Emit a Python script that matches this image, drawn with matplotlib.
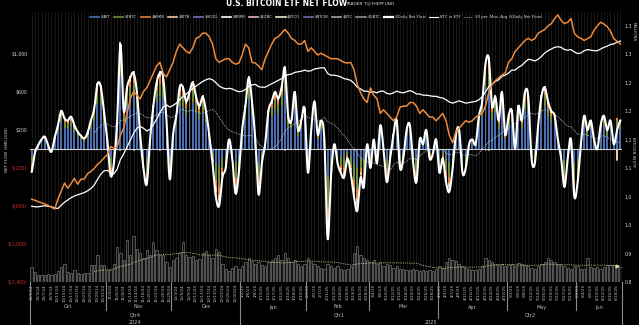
import numpy as np
import pandas as pd
import matplotlib
matplotlib.use("Agg")
import matplotlib.pyplot as plt
from matplotlib.lines import Line2D
from matplotlib.transforms import blended_transform_factory

# trading days Oct 2024 - Jun 2025
holidays = ["2024-11-28", "2024-12-25", "2025-01-01", "2025-01-09", "2025-01-20",
            "2025-02-17", "2025-04-18", "2025-05-26", "2025-06-19"]
dates = pd.bdate_range("2024-10-01", "2025-06-20", freq="C", holidays=holidays)

# daily flows per fund ($M), one row per month
ibit = [-70, -10, 30, 70, 90, 30, -10, 85, 175, 280, 225, 210, 240, 175, 125, 100, 75, 120, 210, 295, 475, 460, 275,
        70, -85, -45, 210, 770, 280, 455, 525, 560, 420, 105, -60, -110, 70, 315, 490, 560, 525, 210, -95,
        105, 245, 455, 455, 350, 420, 490, 385, 315, 385, 280, 105, -45, -150, -180, -90, -60, 70, -30, -140, -75,
        140, 315, 525, 350, 70, -145, -45, 35, 280, 350, 420, 370, 455, 595, 245, 210, 420, 140, 210, 295,
        -75, 140, 350, 105, 210, 70, -285, -90, 35, -45, -75, -90, -30, -75, -150, -195, -90, -120, 35,
        -60, 70, -45, 175, 10, -105, -30, 105, 210, -60, -30, 140, 175, -45, -105, 70, 35, 140, -30, -15, 70,
        -75, -30, -105, -135, -60, 105, 140, -75, -60, 35, 70, 35, 245, 350, 630, 665, 315, 385, 210, 420, 105,
        245, 280, 10, 315, 210, 420, 385, -30, -45, 175, 385, 455, 350, 280, 245, 70, -30, -120, -30, 70, -150,
        -105, 35, 245, 140, 210, 70, 10, 175, 245, 140, 210, 35, 245, 210]
fbtc = [-85, -15, 5, 15, 20, 5, -10, 20, 40, 70, 55, 50, 55, 40, 30, 25, 20, 30, 50, 70, 115, 110, 65,
        15, -100, -50, 50, 185, 70, 110, 125, 135, 100, 25, -70, -130, 15, 75, 120, 135, 125, 50, -110,
        25, 60, 110, 110, 85, 100, 120, 95, 75, 95, 70, 25, -50, -175, -210, -105, -70, 15, -35, -165, -90,
        35, 75, 125, 85, 15, -170, -50, 10, 70, 85, 100, 90, 110, 145, 60, 50, 100, 35, 50, 70,
        -90, 35, 85, 25, 50, 15, -335, -105, 10, -50, -90, -105, -35, -90, -175, -230, -105, -140, 10,
        -70, 15, -50, 40, -5, -125, -35, 25, 50, -70, -35, 35, 40, -50, -125, 15, 10, 35, -35, -20, 15,
        -90, -35, -125, -160, -70, 25, 35, -90, -70, 10, 15, 10, 60, 85, 155, 160, 75, 95, 50, 100, 25,
        60, 70, -5, 75, 50, 100, 95, -35, -50, 40, 95, 110, 85, 70, 60, 15, -35, -140, -35, 15, -175,
        -125, 10, 60, 35, 50, 15, -5, 40, 60, 35, 50, 10, 60, 50]
arkb = [-35, -5, 5, 10, 10, 5, -5, 10, 20, 30, 25, 25, 25, 20, 15, 10, 10, 10, 25, 35, 55, 55, 30,
        10, -40, -25, 25, 90, 30, 50, 60, 65, 50, 10, -30, -55, 10, 35, 55, 65, 60, 25, -50,
        10, 25, 50, 50, 40, 50, 55, 45, 35, 45, 30, 10, -25, -75, -90, -45, -30, 10, -15, -70, -35,
        15, 35, 60, 40, 10, -70, -25, 5, 30, 40, 50, 45, 50, 70, 25, 25, 50, 15, 25, 35,
        -35, 15, 40, 10, 25, 10, -140, -45, 5, -25, -35, -45, -15, -35, -75, -95, -45, -60, 5,
        -30, 10, -25, 20, 0, -50, -15, 10, 25, -30, -15, 15, 20, -25, -50, 10, 5, 15, -15, -5, 10,
        -35, -15, -50, -65, -30, 10, 15, -35, -30, 5, 10, 5, 25, 40, 70, 75, 35, 45, 25, 50, 10,
        25, 30, 0, 35, 25, 50, 45, -15, -25, 20, 45, 50, 40, 30, 25, 10, -15, -60, -15, 10, -75,
        -50, 5, 25, 15, 25, 10, 0, 20, 25, 15, 25, 5, 25, 25]
bitb = [-25, -5, 5, 10, 15, 5, 0, 10, 20, 30, 25, 25, 30, 20, 15, 10, 10, 15, 25, 30, 50, 50, 30,
        10, -30, -15, 25, 80, 30, 50, 55, 60, 45, 15, -20, -40, 10, 35, 50, 60, 55, 25, -35,
        15, 30, 50, 50, 40, 45, 50, 40, 35, 40, 30, 15, -15, -50, -60, -30, -20, 10, -10, -50, -25,
        15, 35, 55, 40, 10, -50, -15, 5, 30, 40, 45, 40, 50, 60, 30, 25, 45, 15, 25, 30,
        -25, 15, 40, 15, 25, 10, -95, -30, 5, -15, -25, -30, -10, -25, -50, -65, -30, -40, 5,
        -20, 10, -15, 20, 0, -35, -10, 15, 25, -20, -10, 15, 20, -15, -35, 10, 5, 15, -10, -5, 10,
        -25, -10, -35, -45, -20, 15, 15, -25, -20, 5, 10, 5, 30, 40, 65, 70, 35, 40, 25, 45, 15,
        30, 30, 0, 35, 25, 45, 40, -10, -15, 20, 40, 50, 40, 30, 30, 10, -10, -40, -10, 10, -50,
        -35, 5, 30, 15, 25, 10, 0, 20, 30, 15, 25, 5, -120, 25]
gbtc = [-25, -5, -5, -5, -5, -5, -5, -5, -5, -10, -10, -10, -10, -5, -5, -5, -5, -5, -10, -10, -15, -15, -10,
        -5, -25, -15, -10, -25, -10, -15, -15, -20, -15, -5, -20, -35, -5, -10, -15, -20, -15, -10, -30,
        -5, -10, -15, -15, -15, -15, -15, -15, -10, -15, -10, -5, -15, -50, -60, -30, -20, -5, -10, -45, -25,
        -5, -10, -15, -15, -5, -45, -15, -5, -10, -15, -15, -15, -15, -20, -10, -10, -15, -5, -10, -10,
        -25, -5, -15, -5, -10, -5, -95, -30, -5, -15, -25, -30, -10, -25, -50, -65, -30, -40, -5,
        -20, -5, -15, -5, -5, -35, -10, -5, -10, -20, -10, -5, -5, -15, -35, -5, -5, -5, -10, -5, -5,
        -25, -10, -35, -45, -20, -5, -5, -25, -20, -5, -5, -5, -10, -15, -20, -20, -10, -15, -10, -15, -5,
        -10, -10, -5, -10, -10, -15, -15, -10, -15, -5, -15, -15, -15, -10, -10, -5, -10, -40, -10, -5, -50,
        -35, -5, -10, -5, -10, -5, -5, -5, -10, -5, -10, -5, -10, -10]

# bitcoin price ($K)
btc_price = [60.5, 60.2, 59.8, 59.5, 59.2, 58.8, 58.3, 57.8, 60.5, 62.7, 64.9, 63.5, 64.8, 66.2, 64.6, 66.0, 66.0, 67.5, 68.1, 68.9, 70.0, 70.8, 71.8,
             72.7, 74.9, 74.5, 74.9, 78, 80, 84, 88, 90, 89, 88, 90, 91, 93, 95, 97, 98, 95, 94, 96,
             98, 101, 103, 102, 101, 100.5, 102, 104.6, 105, 106, 106, 105, 103, 99, 98, 98.5, 99, 99, 98, 97.5, 97.8,
             100, 103, 102, 98, 97.8, 97, 96, 99, 101, 103, 104.6, 105, 106, 107, 106, 104.6, 104, 103, 103, 104,
             101, 102, 101, 100, 100.5, 100, 99.5, 99, 99, 99, 98.5, 98, 97.8, 98, 96, 92, 89.7, 88, 87,
             91, 89, 88, 84, 85, 84, 83, 82, 83, 85.7, 86, 86, 87, 87, 86, 84, 85, 84, 83, 83, 82,
             83, 84, 82, 78, 76, 79, 80, 81, 82, 81.6, 82, 83, 83.5, 84, 86, 89.7, 92, 93, 93.8, 94.5, 95.1,
             98, 99, 101, 102, 103, 104, 104.6, 104, 104.5, 106, 106.5, 107, 108, 108.6, 110, 111, 109.5, 108.6, 109, 110, 106,
             105, 104.6, 104, 104.5, 105, 106.8, 108, 109, 108.5, 107.8, 106.5, 104.5, 103.8, 103]

# bitcoin held in ETFs (millions)
btc_in_etf = [0.983, 0.982, 0.982, 0.983, 0.984, 0.983, 0.982, 0.980, 0.979, 0.985, 0.990, 0.994, 0.998, 1.001, 1.003, 1.005, 1.007, 1.010, 1.014, 1.020, 1.030, 1.039, 1.045,
              1.046, 1.042, 1.040, 1.048, 1.065, 1.075, 1.087, 1.099, 1.111, 1.120, 1.123, 1.120, 1.115, 1.118, 1.126, 1.136, 1.147, 1.157, 1.161, 1.157,
              1.160, 1.164, 1.170, 1.176, 1.180, 1.185, 1.190, 1.194, 1.198, 1.202, 1.205, 1.207, 1.205, 1.200, 1.194, 1.191, 1.189, 1.190, 1.189, 1.186, 1.184,
              1.185, 1.188, 1.193, 1.196, 1.197, 1.193, 1.192, 1.192, 1.195, 1.198, 1.201, 1.204, 1.207, 1.212, 1.214, 1.215, 1.218, 1.219, 1.220, 1.222,
              1.220, 1.221, 1.224, 1.225, 1.226, 1.226, 1.216, 1.213, 1.213, 1.212, 1.210, 1.207, 1.206, 1.204, 1.199, 1.192, 1.189, 1.185, 1.185,
              1.183, 1.184, 1.182, 1.185, 1.185, 1.181, 1.180, 1.182, 1.185, 1.183, 1.182, 1.184, 1.186, 1.184, 1.180, 1.180, 1.178, 1.178, 1.177, 1.176, 1.176,
              1.174, 1.173, 1.170, 1.166, 1.164, 1.166, 1.168, 1.166, 1.164, 1.165, 1.166, 1.167, 1.170, 1.175, 1.184, 1.193, 1.197, 1.202, 1.205, 1.211, 1.213,
              1.217, 1.222, 1.222, 1.227, 1.230, 1.236, 1.241, 1.240, 1.238, 1.241, 1.246, 1.252, 1.256, 1.259, 1.262, 1.263, 1.262, 1.258, 1.257, 1.258, 1.254,
              1.251, 1.252, 1.256, 1.258, 1.257, 1.256, 1.256, 1.259, 1.262, 1.264, 1.267, 1.268, 1.271, 1.273]

# ETF trading volume ($B)
volume = [3.4, 2.2, 1.6, 1.6, 1.6, 1.8, 1.5, 1.7, 2.5, 3.4, 4.0, 2.2, 2.0, 2.6, 2.0, 1.8, 2.0, 2.0, 3.8, 3.8, 6.1, 3.8, 3.8,
          2.7, 2.7, 4.0, 7.9, 6.5, 5.0, 9.4, 6.0, 10.3, 7.5, 6.5, 5.5, 7.2, 6.0, 9.0, 7.2, 6.0, 6.1, 4.5, 3.4,
          4.9, 5.5, 6.5, 9.0, 6.0, 5.6, 5.8, 4.9, 5.2, 6.5, 7.0, 6.0, 5.5, 7.5, 6.8, 4.0, 3.0, 2.5, 3.2, 3.5, 3.0,
          3.5, 4.5, 5.5, 4.8, 4.0, 4.5, 3.8, 3.5, 4.5, 5.0, 5.5, 6.0, 5.0, 6.5, 5.5, 4.5, 5.0, 4.0, 3.5, 4.0,
          5.5, 4.5, 4.0, 3.5, 3.2, 3.0, 4.0, 3.5, 3.2, 3.5, 3.0, 2.8, 3.0, 3.5, 6.5, 8.0, 6.0, 5.5, 5.0,
          4.5, 5.0, 4.0, 4.5, 3.5, 4.0, 3.8, 3.2, 3.5, 3.0, 3.0, 2.8, 2.6, 3.0, 2.8, 2.5, 2.6, 2.4, 2.8, 2.5, 3.0,
          3.5, 3.2, 4.5, 5.5, 5.0, 4.8, 4.0, 3.5, 3.2, 3.0, 2.8, 2.6, 3.0, 3.5, 5.5, 5.0, 4.5, 4.0, 3.8, 4.0, 3.5,
          3.8, 4.0, 3.5, 4.2, 4.0, 3.8, 3.5, 3.2, 3.0, 3.5, 4.0, 4.5, 5.5, 5.0, 4.5, 4.0, 3.8, 3.5, 3.2, 3.0, 3.5,
          3.5, 3.0, 3.0, 5.4, 3.4, 3.2, 3.4, 3.0, 3.4, 3.8, 3.8, 3.8, 3.8, 3.4]

funds = [("$IBIT", ibit, "#4a6eb0"), ("$FBTC", fbtc, "#6f8f3a"), ("$ARKB", arkb, "#ED7D31"),
         ("$BITB", bitb, "#F4C7A1"), ("$GBTC", gbtc, "#8c8c8c")]

n = len(dates)
x = np.arange(n)
net = np.sum([np.array(f[1]) for f in funds], axis=0)


def smooth_curve(xs, ys, steps=8):
    # Excel-style smoothed line: Catmull-Rom through every point
    ys = np.asarray(ys, dtype=float)
    p = np.concatenate([[ys[0]], ys, [ys[-1]]])
    out_x, out_y = [], []
    t = np.linspace(0, 1, steps, endpoint=False)
    for i in range(len(ys) - 1):
        p0, p1, p2, p3 = p[i], p[i + 1], p[i + 2], p[i + 3]
        out_y.extend(0.5 * (2 * p1 + (-p0 + p2) * t + (2 * p0 - 5 * p1 + 4 * p2 - p3) * t ** 2
                            + (-p0 + 3 * p1 - 3 * p2 + p3) * t ** 3))
        out_x.extend(xs[i] + t * (xs[i + 1] - xs[i]))
    out_x.append(xs[-1])
    out_y.append(ys[-1])
    return np.array(out_x), np.array(out_y)


fig = plt.figure(figsize=(6.39, 3.25), dpi=100, facecolor="black")
ax = fig.add_axes([30 / 639, 1 - 282 / 325, 592 / 639, 270 / 325])
ax.set_facecolor("black")

# stacked bars, positive up and negative down
pos_base = np.zeros(n)
neg_base = np.zeros(n)
for name, vals, col in funds:
    v = np.array(vals, dtype=float)
    p = np.where(v > 0, v, 0)
    m = np.where(v < 0, v, 0)
    ax.bar(x, p, bottom=pos_base, width=0.6, color=col, lw=0, zorder=2)
    ax.bar(x, m, bottom=neg_base, width=0.6, color=col, lw=0, zorder=2)
    pos_base += p
    neg_base += m

ax.axhline(0, color="#cfcfcf", lw=0.8, zorder=3)
sx, sy = smooth_curve(x, net)
ax.plot(sx, sy, color="white", lw=1.5, zorder=5, solid_joinstyle="round")
ax.plot(x, pd.Series(net).rolling(20).mean(), color="#d9d9d9", lw=0.6, ls=(0, (1, 1.2)), zorder=4)

ax.set_xlim(-0.5, n - 0.5)
ax.set_ylim(-1400, 1442)
yt = [-1400, -1000, -600, -200, 200, 600, 1000]
ax.set_yticks(yt)
ax.set_yticklabels([f"${v:,}" if v > 0 else f"$({-v:,})" for v in yt])
for lbl, v in zip(ax.get_yticklabels(), yt):
    lbl.set_color("#d9d9d9" if v > 0 else "#d03030")
ax.tick_params(axis="y", length=0, pad=2, labelsize=3.3)

ax.set_xticks(x)
ax.set_xticklabels([f"{d.month}/{d.day}/{d.strftime('%y')}" if i % 2 == 0 else ""
                    for i, d in enumerate(dates)], rotation=90)
ax.tick_params(axis="x", length=0, pad=1.5, labelsize=3.0, labelcolor="#bfbfbf")
ax.grid(axis="x", color="#2a2a2a", lw=0.4, zorder=0)
for s in ax.spines.values():
    s.set_visible(False)

# bitcoin in ETF, right axis
ax2 = ax.twinx()
ax2.plot(x, btc_in_etf, color="white", lw=0.9, zorder=6)
ax2.set_ylim(0.85, 1.324)
rt = np.arange(0.85, 1.301, 0.05)
ax2.set_yticks(rt)
ax2.set_yticklabels([f"{v:.1f}" for v in rt])
ax2.tick_params(axis="y", length=0, pad=2, labelsize=3.3, labelcolor="#d9d9d9")

# bitcoin price, hidden axis
ax3 = ax.twinx()
ax3.plot(x, btc_price, color="#EE8A3C", lw=1.1, zorder=6)
ax3.set_ylim(37.8, 111.8)
ax3.set_yticks([])

# volume in the lower band, hidden axis
ax4 = ax.twinx()
ax4.bar(x, volume, width=0.7, facecolor="#141414", edgecolor="#8a8a8a", lw=0.4)
vol_ma = pd.Series(volume).rolling(20).mean()
ax4.plot(x, vol_ma, color="#d6dc9a", lw=0.6, ls=(0, (1, 1.2)))
ax4.plot(x[-2], vol_ma.iloc[-2], marker=">", ms=2, color="#d6dc9a")
ax4.set_ylim(0, 60.75)
ax4.set_yticks([])

for a in (ax2, ax3, ax4):
    a.patch.set_visible(False)
    for s in a.spines.values():
        s.set_visible(False)

# multi-level date axis: month, quarter, year
tr = blended_transform_factory(ax.transData, fig.transFigure)
month_start = [i for i in range(n) if i == 0 or dates[i].month != dates[i - 1].month]
bounds = month_start + [n]
grey = "#8c8c8c"
for k, i0 in enumerate(month_start):
    i1 = bounds[k + 1]
    ax.text((i0 + i1 - 1) / 2, 1 - 307 / 325, dates[i0].strftime("%b"), transform=tr,
            ha="center", va="center", fontsize=3.5, color="#bfbfbf")
    if i0 == 0 or dates[i0].month == 1:
        y_end = 0
    elif dates[i0].month in (4, 7, 10):
        y_end = 1 - 318 / 325
    else:
        y_end = 1 - 310 / 325
    fig.add_artist(Line2D([i0 - 0.5, i0 - 0.5], [1 - 282 / 325, y_end], transform=tr, color=grey, lw=0.8))
fig.add_artist(Line2D([n - 0.5, n - 0.5], [1 - 282 / 325, 0], transform=tr, color=grey, lw=0.8))

quarters = [("Qtr4", 0, 64), ("Qtr1", 64, 124), ("Qtr2", 124, n)]
for lab, i0, i1 in quarters:
    ax.text((i0 + i1 - 1) / 2, 1 - 315 / 325, lab, transform=tr, ha="center", va="center",
            fontsize=3.5, color="#bfbfbf")
years = [("2024", 0, 64), ("2025", 64, n)]
for lab, i0, i1 in years:
    ax.text((i0 + i1 - 1) / 2, 1 - 322 / 325, lab, transform=tr, ha="center", va="center",
            fontsize=3.5, color="#bfbfbf")

# labels and titles
fig.text(7 / 639, 1 - 150 / 325, "NET FLOW ($MILLION)", rotation=90, ha="center", va="center",
         fontsize=3, color="#d9d9d9")
fig.text(633 / 639, 1 - 152 / 325, "BITCOIN IN ETF", rotation=270, ha="center", va="center",
         fontsize=3, color="#d9d9d9")
fig.text(634 / 639, 1 - 32 / 325, "MILLIONS", rotation=270, ha="center", va="center",
         fontsize=3, color="#d9d9d9")
fig.text(287 / 639, 1 - 3 / 325, "U.S. BITCOIN ETF NET FLOW", ha="center", va="center",
         fontsize=5.5, weight="bold", color="white")
fig.text(370 / 639, 1 - 3 / 325, "TRADER T@THEPFUND", ha="center", va="center",
         fontsize=3.2, color="#d9d9d9")

# legend
leg_items = [("$IBIT", "#4a6eb0", 1.2, "-"), ("$FBTC", "#6f8f3a", 1.2, "-"), ("$ARKB", "#ED7D31", 1.2, "-"),
             ("$BITB", "#F4C7A1", 1.2, "-"), ("$HODL", "#7f6fc0", 1.2, "-"), ("$BRRR", "#ffffff", 1.2, "-"),
             ("$EZBC", "#e8b4c0", 1.2, "-"), ("$BTCO", "#e8edc8", 1.2, "-"), ("$BTCW", "#8064A2", 1.2, "-"),
             ("$BTC", "#a5a5a5", 1.2, "-"), ("$GBTC", "#8c8c8c", 1.2, "-"), ("$Daily Net Flow", "white", 1.6, "-"),
             ("BTC in ETF", "white", 0.8, "-"), ("30 per. Mov. Avg ($Daily Net Flow)", "#d9d9d9", 0.6, ":")]
handles = [Line2D([0], [0], color=c, lw=w, ls=s) for _, c, w, s in leg_items]
fig.legend(handles, [t for t, _, _, _ in leg_items], loc="center", bbox_to_anchor=(316 / 639, 1 - 17 / 325),
           ncol=len(leg_items), fontsize=2.8, frameon=False, handlelength=2.4, handletextpad=0.4,
           columnspacing=0.9, labelcolor="#d9d9d9")

fig.savefig("out.png", dpi=100, facecolor="black")
